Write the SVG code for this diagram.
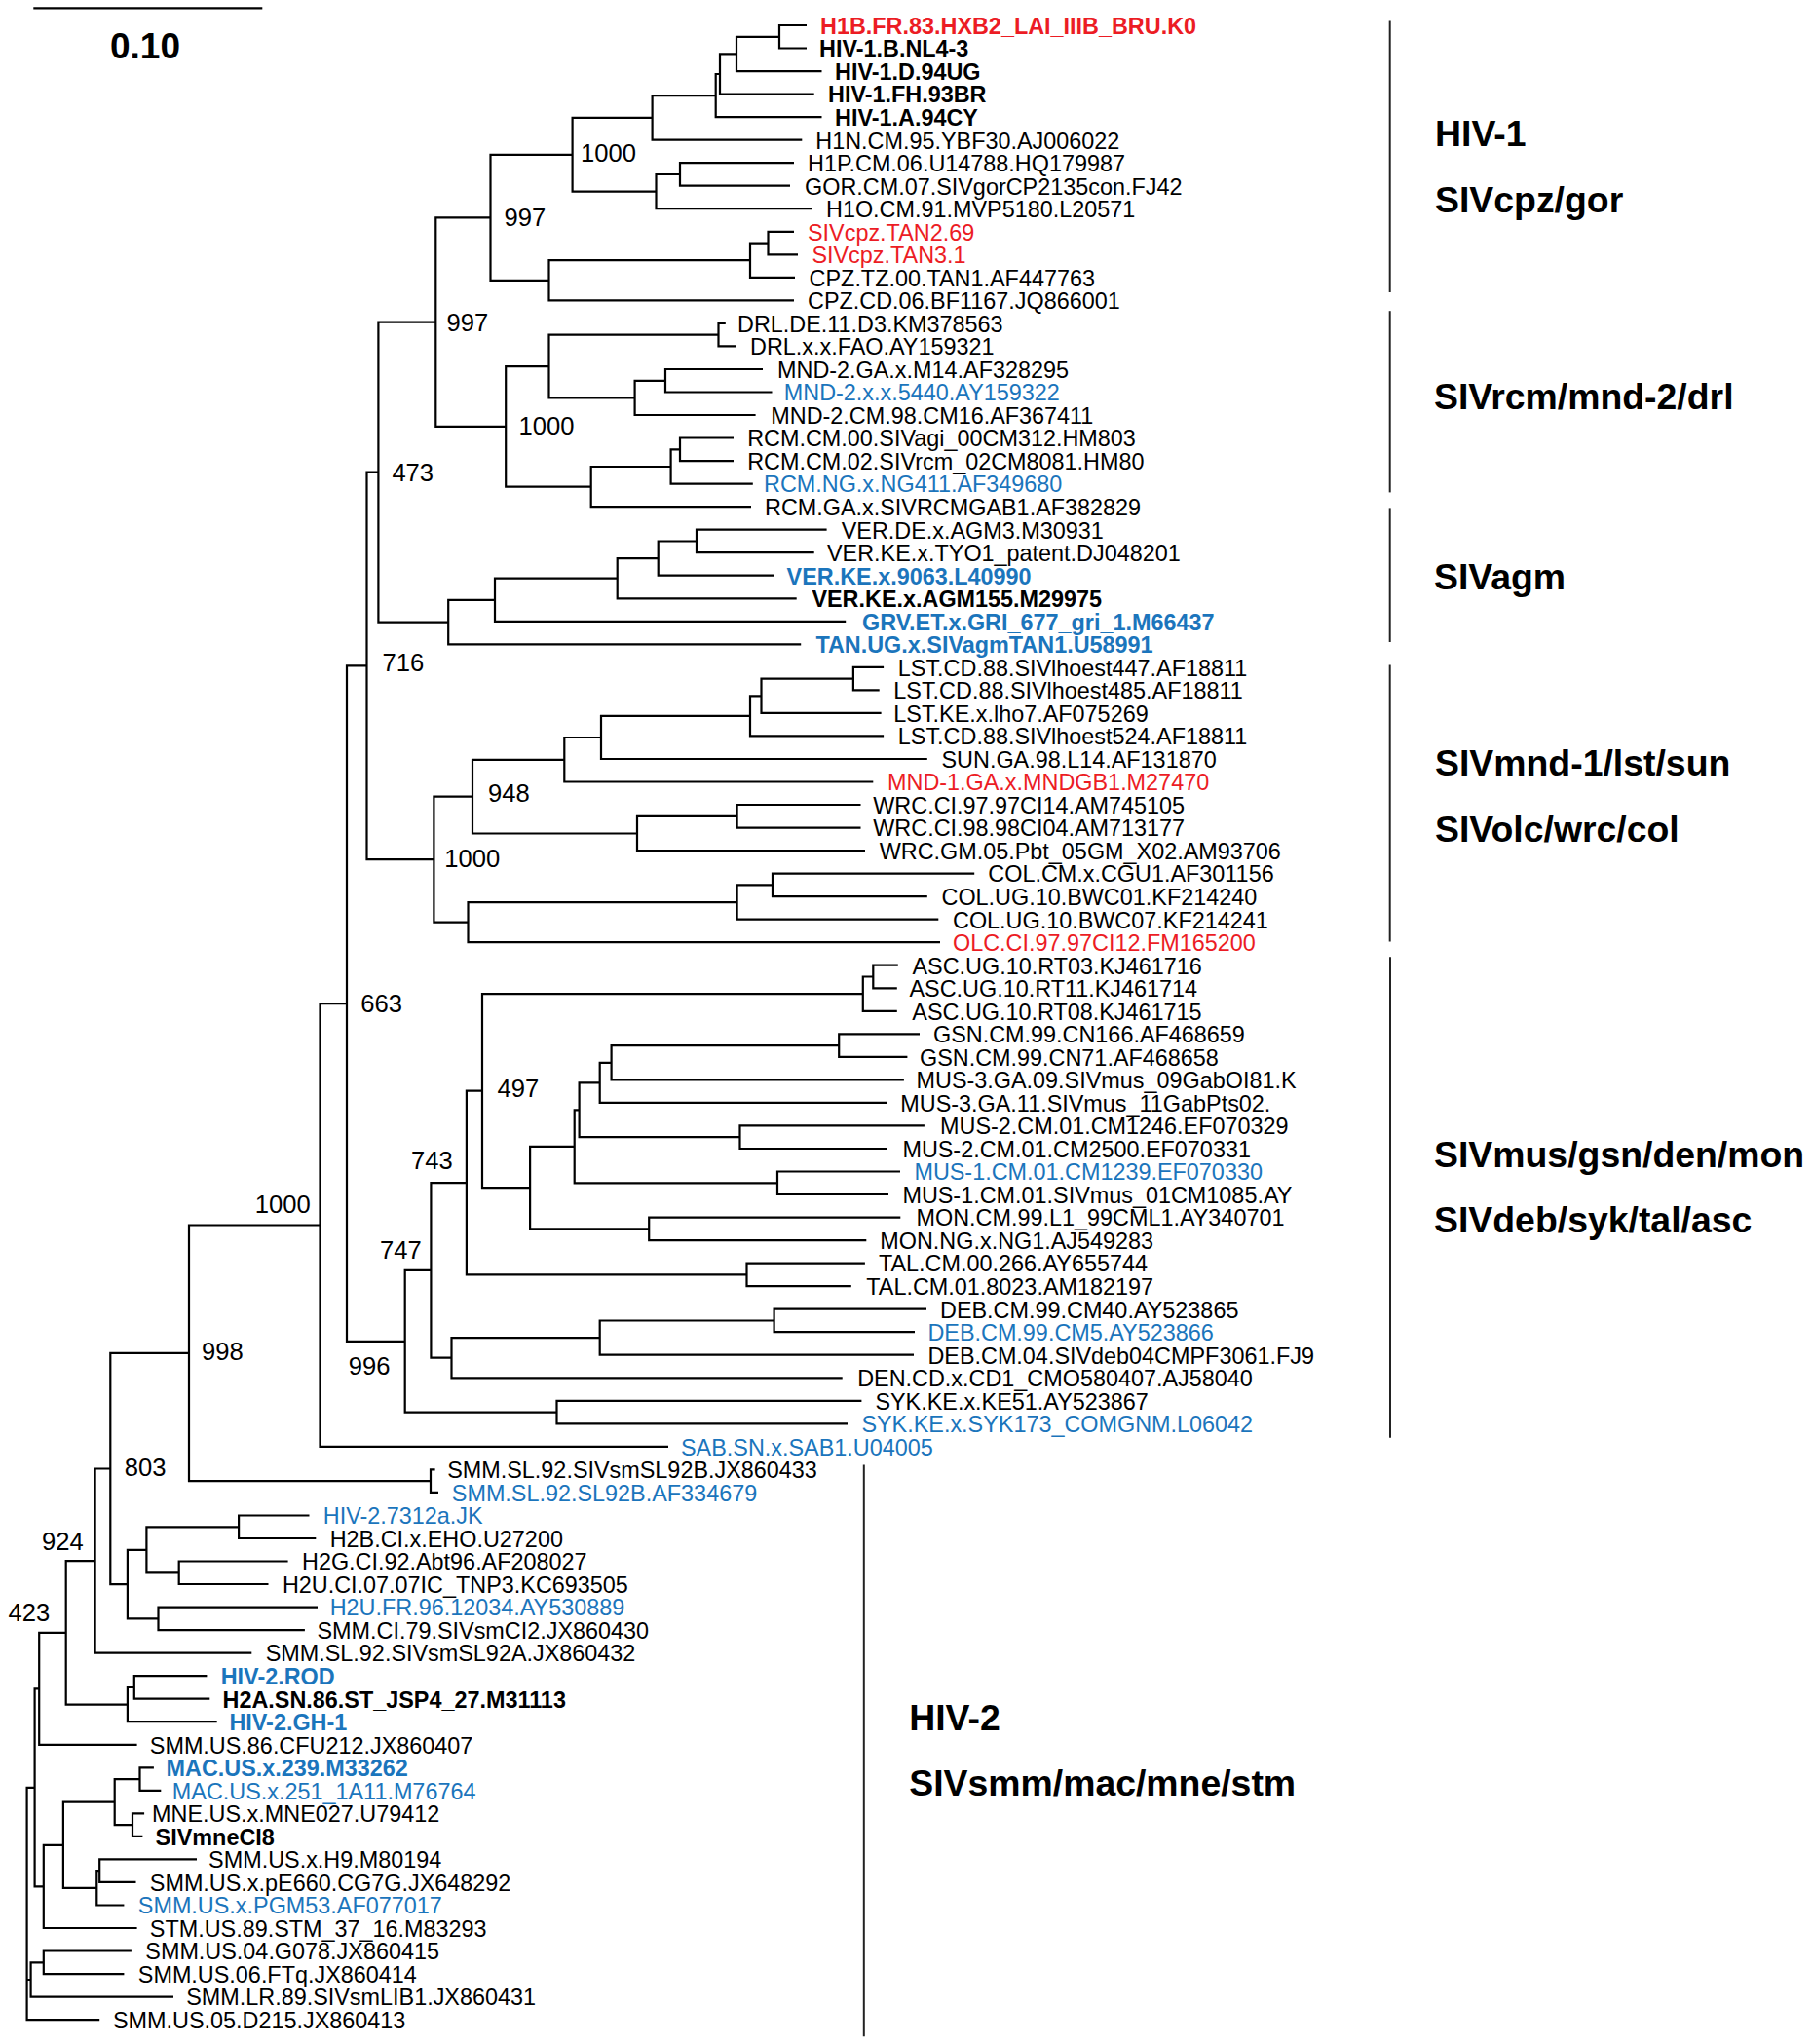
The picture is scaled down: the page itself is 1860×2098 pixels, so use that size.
<svg xmlns="http://www.w3.org/2000/svg" width="1860" height="2098" viewBox="0 0 1860 2098">
<style>
text{font-family:"Liberation Sans",Arial,sans-serif;fill:#000}
.lf{font-size:23.4px}
.b{font-weight:bold}
.r{fill:#ec1c24}
.u{fill:#1b75bc}
.bs{font-size:25.6px}
.cl{font-size:37.4px;font-weight:bold}
.br{fill:none;stroke:#000;stroke-width:2.2;stroke-linejoin:miter}
.bar{stroke:#222;stroke-width:2;fill:none}
</style>
<rect width="1860" height="2098" fill="#fff"/>
<g id="scalebar">
<line x1="34.3" y1="8.3" x2="269.3" y2="8.3" stroke="#000" stroke-width="2.2"/>
<text x="149" y="60" text-anchor="middle" style="font-size:37px;font-weight:bold">0.10</text>
</g>
<g id="connectors" class="br">
<path d="M828 26H800V49.5H828"/>
<path d="M800 37.8H756V73.1H843.5"/>
<path d="M756 55.4H739V96.6H835.7"/>
<path d="M739 76H734.7V120.1H843.5"/>
<path d="M734.7 98.1H669.6V143.7H823.3"/>
<path d="M815 167.2H698V190.7H811"/>
<path d="M698 179H673.5V214.2H833.4"/>
<path d="M669.6 120.9H587.6V196.6H673.5"/>
<path d="M815 237.8H788.5V261.3H819"/>
<path d="M788.5 249.6H770V284.8H816"/>
<path d="M770 267.2H563.5V308.4H815"/>
<path d="M587.6 158.8H503.5V287.8H563.5"/>
<path d="M744.8 331.9H737.5V355.4H755"/>
<path d="M783 379H683V402.5H792.5"/>
<path d="M683 390.8H651.6V426H775.6"/>
<path d="M737.5 343.7H563.5V408.4H651.6"/>
<path d="M753 449.5H698V473.1H753"/>
<path d="M698 461.3H688.6V496.6H772.8"/>
<path d="M688.6 479H606.7V520.1H771"/>
<path d="M563.5 376.1H519.2V499.6H606.7"/>
<path d="M503.5 223.3H447.3V437.9H519.2"/>
<path d="M848.6 543.7H715V567.2H835.7"/>
<path d="M715 555.5H675.7V590.7H795"/>
<path d="M675.7 573.1H633.7V614.3H817.7"/>
<path d="M633.7 593.7H508V637.8H868.2"/>
<path d="M508 615.8H460.2V661.3H822.2"/>
<path d="M447.3 330.6H388.4V638.6H460.2"/>
<path d="M907.1 684.8H875.9V708.4H902.7"/>
<path d="M875.9 696.6H781.5V731.9H904.6"/>
<path d="M781.5 714.3H770V755.4H907.1"/>
<path d="M770 734.9H617V779H951.8"/>
<path d="M617 757H579.3V802.5H896.3"/>
<path d="M883.5 826H756.6V849.6H883.5"/>
<path d="M756.6 837.8H654V873.1H888"/>
<path d="M579.3 779.8H485V855.5H654"/>
<path d="M1000.2 896.6H793V920.1H951.8"/>
<path d="M793 908.4H756.6V943.7H963.3"/>
<path d="M756.6 926.1H480.5V967.2H965"/>
<path d="M485 817.7H445.4V946.7H480.5"/>
<path d="M388.4 484.6H376.5V882.2H445.4"/>
<path d="M921.8 990.7H896.3V1014.3H920.8"/>
<path d="M896.3 1002.5H885.8V1037.8H920.8"/>
<path d="M944 1061.3H861.2V1084.9H931.4"/>
<path d="M861.2 1073.1H627.6V1108.4H927.9"/>
<path d="M627.6 1090.8H615.7V1131.9H910.3"/>
<path d="M948.9 1155.4H759.5V1179H910.3"/>
<path d="M615.7 1111.3H594.6V1167.2H759.5"/>
<path d="M924 1202.5H798V1226H912"/>
<path d="M594.6 1139.3H589.7V1214.3H798"/>
<path d="M924.3 1249.6H666.2V1273.1H889.3"/>
<path d="M589.7 1176.8H544.1V1261.4H666.2"/>
<path d="M885.8 1020.2H495V1219.1H544.1"/>
<path d="M887.9 1296.6H766.5V1320.2H873.8"/>
<path d="M495 1119.7H478.9V1308.4H766.5"/>
<path d="M951 1343.7H794.6V1367.2H939"/>
<path d="M794.6 1355.5H615.7V1390.7H938"/>
<path d="M615.7 1373.1H463.5V1414.3H864.7"/>
<path d="M478.9 1214.1H442.4V1393.7H463.5"/>
<path d="M884.4 1437.8H571.5V1461.3H870"/>
<path d="M442.4 1303.9H415.7V1449.6H571.5"/>
<path d="M376.5 683.4H356V1376.8H415.7"/>
<path d="M356 1030.1H328.5V1484.9H686"/>
<path d="M446.6 1508.4H442V1531.9H450"/>
<path d="M328.5 1257.5H194V1520.2H442"/>
<path d="M317.5 1555.5H245.1V1579H324.3"/>
<path d="M295.6 1602.5H183.7V1626H275.5"/>
<path d="M245.1 1567.3H150.4V1614.3H183.7"/>
<path d="M326 1649.6H162.5V1673.1H312.9"/>
<path d="M150.4 1590.8H130.9V1661.4H162.5"/>
<path d="M194 1388.9H113.3V1626.1H130.9"/>
<path d="M113.3 1507.5H97.6V1696.6H258.3"/>
<path d="M212.4 1720.2H137.8V1743.7H215.3"/>
<path d="M137.8 1732H130.9V1767.2H222.7"/>
<path d="M97.6 1602.1H67.7V1749.6H130.9"/>
<path d="M67.7 1675.9H40.2V1790.8H140.6"/>
<path d="M157.9 1814.3H143.5V1837.8H165.3"/>
<path d="M148.1 1861.3H136V1884.9H146.4"/>
<path d="M143.5 1826.1H117.7V1873.1H136"/>
<path d="M202 1908.4H102.2V1931.9H139.5"/>
<path d="M102.2 1920.2H99.3V1955.5H127.4"/>
<path d="M117.7 1849.6H64.9V1937.9H99.3"/>
<path d="M64.9 1893.8H44.8V1979H140.6"/>
<path d="M40.2 1733.4H35.6V1936.4H44.8"/>
<path d="M134.9 2002.5H44.8V2026.1H127.4"/>
<path d="M44.8 2014.3H31.6V2049.6H178"/>
<path d="M35.6 1834.9H27.6V2073.1H102.2M27.6 2032H31.6"/>
</g>
<g id="bootstrap" class="bs">
<text x="596" y="165.9">1000</text>
<text x="517.5" y="232.2">997</text>
<text x="458.6" y="339.9">997</text>
<text x="532.6" y="445.9">1000</text>
<text x="402.4" y="494.2">473</text>
<text x="392.5" y="689.2">716</text>
<text x="501" y="823.2">948</text>
<text x="456.3" y="890.2">1000</text>
<text x="370.2" y="1039.2">663</text>
<text x="510.5" y="1125.9">497</text>
<text x="422" y="1200.2">743</text>
<text x="390" y="1291.5">747</text>
<text x="357.7" y="1410.9">996</text>
<text x="261.7" y="1245.2">1000</text>
<text x="207" y="1395.9">998</text>
<text x="127.7" y="1515.2">803</text>
<text x="43" y="1590.9">924</text>
<text x="8.6" y="1664.2">423</text>
</g>
<g id="leaves" class="lf">
<g id="L1"><text class="b r" x="842" y="34.8">H1B.FR.83.HXB2_LAI_IIIB_BRU.K0</text></g>
<g id="L2"><text class="b" x="841" y="58.3">HIV-1.B.NL4-3</text></g>
<g id="L3"><text class="b" x="857" y="81.9">HIV-1.D.94UG</text></g>
<g id="L4"><text class="b" x="850" y="105.4">HIV-1.FH.93BR</text></g>
<g id="L5"><text class="b" x="857" y="128.9">HIV-1.A.94CY</text></g>
<g id="L6"><text x="837.3" y="152.5">H1N.CM.95.YBF30.AJ006022</text></g>
<g id="L7"><text x="829" y="176">H1P.CM.06.U14788.HQ179987</text></g>
<g id="L8"><text x="826" y="199.5">GOR.CM.07.SIVgorCP2135con.FJ42</text></g>
<g id="L9"><text x="848" y="223">H1O.CM.91.MVP5180.L20571</text></g>
<g id="L10"><text class="r" x="829" y="246.6">SIVcpz.TAN2.69</text></g>
<g id="L11"><text class="r" x="833.4" y="270.1">SIVcpz.TAN3.1</text></g>
<g id="L12"><text x="830.6" y="293.6">CPZ.TZ.00.TAN1.AF447763</text></g>
<g id="L13"><text x="829" y="317.2">CPZ.CD.06.BF1167.JQ866001</text></g>
<g id="L14"><text x="757" y="340.7">DRL.DE.11.D3.KM378563</text></g>
<g id="L15"><text x="770" y="364.2">DRL.x.x.FAO.AY159321</text></g>
<g id="L16"><text x="798" y="387.8">MND-2.GA.x.M14.AF328295</text></g>
<g id="L17"><text class="u" x="804.8" y="411.3">MND-2.x.x.5440.AY159322</text></g>
<g id="L18"><text x="791.3" y="434.8">MND-2.CM.98.CM16.AF367411</text></g>
<g id="L19"><text x="767.2" y="458.3">RCM.CM.00.SIVagi_00CM312.HM803</text></g>
<g id="L20"><text x="767.2" y="481.9">RCM.CM.02.SIVrcm_02CM8081.HM80</text></g>
<g id="L21"><text class="u" x="784" y="505.4">RCM.NG.x.NG411.AF349680</text></g>
<g id="L22"><text x="785" y="528.9">RCM.GA.x.SIVRCMGAB1.AF382829</text></g>
<g id="L23"><text x="863.7" y="552.5">VER.DE.x.AGM3.M30931</text></g>
<g id="L24"><text x="849" y="576">VER.KE.x.TYO1_patent.DJ048201</text></g>
<g id="L25"><text class="b u" x="807.6" y="599.5">VER.KE.x.9063.L40990</text></g>
<g id="L26"><text class="b" x="833.4" y="623.1">VER.KE.x.AGM155.M29975</text></g>
<g id="L27"><text class="b u" x="885" y="646.6">GRV.ET.x.GRI_677_gri_1.M66437</text></g>
<g id="L28"><text class="b u" x="837.4" y="670.1">TAN.UG.x.SIVagmTAN1.U58991</text></g>
<g id="L29"><text x="921.8" y="693.6">LST.CD.88.SIVlhoest447.AF18811</text></g>
<g id="L30"><text x="917.3" y="717.2">LST.CD.88.SIVlhoest485.AF18811</text></g>
<g id="L31"><text x="917.3" y="740.7">LST.KE.x.lho7.AF075269</text></g>
<g id="L32"><text x="921.8" y="764.2">LST.CD.88.SIVlhoest524.AF18811</text></g>
<g id="L33"><text x="966.5" y="787.8">SUN.GA.98.L14.AF131870</text></g>
<g id="L34"><text class="r" x="911" y="811.3">MND-1.GA.x.MNDGB1.M27470</text></g>
<g id="L35"><text x="896.3" y="834.8">WRC.CI.97.97CI14.AM745105</text></g>
<g id="L36"><text x="896.3" y="858.4">WRC.CI.98.98CI04.AM713177</text></g>
<g id="L37"><text x="902.7" y="881.9">WRC.GM.05.Pbt_05GM_X02.AM93706</text></g>
<g id="L38"><text x="1014.3" y="905.4">COL.CM.x.CGU1.AF301156</text></g>
<g id="L39"><text x="966.5" y="928.9">COL.UG.10.BWC01.KF214240</text></g>
<g id="L40"><text x="978" y="952.5">COL.UG.10.BWC07.KF214241</text></g>
<g id="L41"><text class="r" x="978" y="976">OLC.CI.97.97CI12.FM165200</text></g>
<g id="L42"><text x="936.5" y="999.5">ASC.UG.10.RT03.KJ461716</text></g>
<g id="L43"><text x="933.5" y="1023.1">ASC.UG.10.RT11.KJ461714</text></g>
<g id="L44"><text x="936.3" y="1046.6">ASC.UG.10.RT08.KJ461715</text></g>
<g id="L45"><text x="958" y="1070.1">GSN.CM.99.CN166.AF468659</text></g>
<g id="L46"><text x="944" y="1093.7">GSN.CM.99.CN71.AF468658</text></g>
<g id="L47"><text x="940.5" y="1117.2">MUS-3.GA.09.SIVmus_09GabOI81.K</text></g>
<g id="L48"><text x="924.3" y="1140.7">MUS-3.GA.11.SIVmus_11GabPts02.</text></g>
<g id="L49"><text x="965" y="1164.2">MUS-2.CM.01.CM1246.EF070329</text></g>
<g id="L50"><text x="926.4" y="1187.8">MUS-2.CM.01.CM2500.EF070331</text></g>
<g id="L51"><text class="u" x="938.4" y="1211.3">MUS-1.CM.01.CM1239.EF070330</text></g>
<g id="L52"><text x="926.4" y="1234.8">MUS-1.CM.01.SIVmus_01CM1085.AY</text></g>
<g id="L53"><text x="940.5" y="1258.4">MON.CM.99.L1_99CML1.AY340701</text></g>
<g id="L54"><text x="903.3" y="1281.9">MON.NG.x.NG1.AJ549283</text></g>
<g id="L55"><text x="901.9" y="1305.4">TAL.CM.00.266.AY655744</text></g>
<g id="L56"><text x="889.3" y="1329">TAL.CM.01.8023.AM182197</text></g>
<g id="L57"><text x="965" y="1352.5">DEB.CM.99.CM40.AY523865</text></g>
<g id="L58"><text class="u" x="952.4" y="1376">DEB.CM.99.CM5.AY523866</text></g>
<g id="L59"><text x="952.4" y="1399.5">DEB.CM.04.SIVdeb04CMPF3061.FJ9</text></g>
<g id="L60"><text x="880.2" y="1423.1">DEN.CD.x.CD1_CMO580407.AJ58040</text></g>
<g id="L61"><text x="898.4" y="1446.6">SYK.KE.x.KE51.AY523867</text></g>
<g id="L62"><text class="u" x="884.4" y="1470.1">SYK.KE.x.SYK173_COMGNM.L06042</text></g>
<g id="L63"><text class="u" x="699" y="1493.7">SAB.SN.x.SAB1.U04005</text></g>
<g id="L64"><text x="459.2" y="1517.2">SMM.SL.92.SIVsmSL92B.JX860433</text></g>
<g id="L65"><text class="u" x="463.8" y="1540.7">SMM.SL.92.SL92B.AF334679</text></g>
<g id="L66"><text class="u" x="331.8" y="1564.3">HIV-2.7312a.JK</text></g>
<g id="L67"><text x="338.7" y="1587.8">H2B.CI.x.EHO.U27200</text></g>
<g id="L68"><text x="310" y="1611.3">H2G.CI.92.Abt96.AF208027</text></g>
<g id="L69"><text x="289.9" y="1634.8">H2U.CI.07.07IC_TNP3.KC693505</text></g>
<g id="L70"><text class="u" x="338.7" y="1658.4">H2U.FR.96.12034.AY530889</text></g>
<g id="L71"><text x="325.5" y="1681.9">SMM.CI.79.SIVsmCI2.JX860430</text></g>
<g id="L72"><text x="272.7" y="1705.4">SMM.SL.92.SIVsmSL92A.JX860432</text></g>
<g id="L73"><text class="b u" x="226.7" y="1729">HIV-2.ROD</text></g>
<g id="L74"><text class="b" x="228.5" y="1752.5">H2A.SN.86.ST_JSP4_27.M31113</text></g>
<g id="L75"><text class="b u" x="235.4" y="1776">HIV-2.GH-1</text></g>
<g id="L76"><text x="153.8" y="1799.6">SMM.US.86.CFU212.JX860407</text></g>
<g id="L77"><text class="b u" x="170.5" y="1823.1">MAC.US.x.239.M33262</text></g>
<g id="L78"><text class="u" x="176.8" y="1846.6">MAC.US.x.251_1A11.M76764</text></g>
<g id="L79"><text x="156.1" y="1870.1">MNE.US.x.MNE027.U79412</text></g>
<g id="L80"><text class="b" x="159.6" y="1893.7">SIVmneCI8</text></g>
<g id="L81"><text x="214.1" y="1917.2">SMM.US.x.H9.M80194</text></g>
<g id="L82"><text x="153.8" y="1940.7">SMM.US.x.pE660.CG7G.JX648292</text></g>
<g id="L83"><text class="u" x="141.8" y="1964.3">SMM.US.x.PGM53.AF077017</text></g>
<g id="L84"><text x="153.8" y="1987.8">STM.US.89.STM_37_16.M83293</text></g>
<g id="L85"><text x="149.3" y="2011.3">SMM.US.04.G078.JX860415</text></g>
<g id="L86"><text x="141.8" y="2034.9">SMM.US.06.FTq.JX860414</text></g>
<g id="L87"><text x="191.2" y="2058.4">SMM.LR.89.SIVsmLIB1.JX860431</text></g>
<g id="L88"><text x="116" y="2081.9">SMM.US.05.D215.JX860413</text></g>
</g>
<g id="clades">
<g id="clade-hiv1" class="bar"><line x1="1426.7" y1="21.4" x2="1426.7" y2="300"/></g>
<g id="clade-rcm" class="bar"><line x1="1426.7" y1="319.2" x2="1426.7" y2="505.4"/></g>
<g id="clade-agm" class="bar"><line x1="1426.7" y1="521.4" x2="1426.7" y2="659"/></g>
<g id="clade-lst" class="bar"><line x1="1426.7" y1="682.6" x2="1426.7" y2="966.6"/></g>
<g id="clade-mus" class="bar"><line x1="1427" y1="982.3" x2="1427" y2="1475.7"/></g>
<g id="clade-hiv2" class="bar"><line x1="886.8" y1="1503.6" x2="886.8" y2="2090.2"/></g>
<text class="cl" x="1473" y="149.6">HIV-1</text>
<text class="cl" x="1473" y="217.9">SIVcpz/gor</text>
<text class="cl" x="1472" y="419.6">SIVrcm/mnd-2/drl</text>
<text class="cl" x="1472" y="605">SIVagm</text>
<text class="cl" x="1473" y="796.1">SIVmnd-1/lst/sun</text>
<text class="cl" x="1473" y="864.1">SIVolc/wrc/col</text>
<text class="cl" x="1472" y="1197.8">SIVmus/gsn/den/mon</text>
<text class="cl" x="1472" y="1264.7">SIVdeb/syk/tal/asc</text>
<text class="cl" x="933.2" y="1776.4">HIV-2</text>
<text class="cl" x="933.2" y="1843.4">SIVsmm/mac/mne/stm</text>
</g>
</svg>
